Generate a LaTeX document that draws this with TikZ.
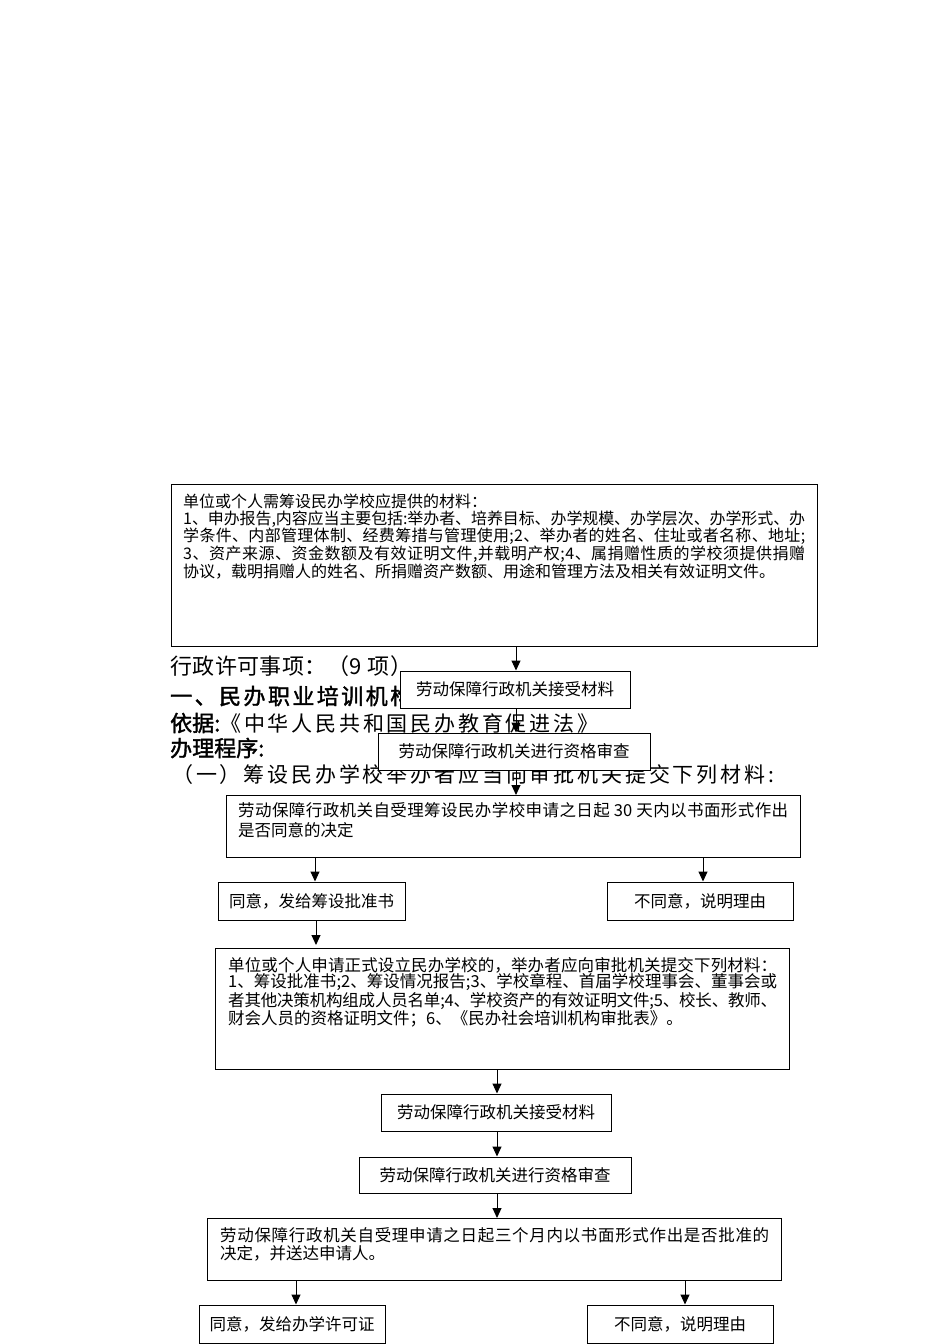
\documentclass[tikz,border=0pt]{standalone}
\usepackage{fontspec}
\setmainfont{Noto Sans CJK SC}
\newfontfamily\hb[FakeBold=1.6]{Noto Sans CJK SC}
\usetikzlibrary{arrows.meta}
\ExplSyntaxOn
\NewDocumentCommand\fl{mm}{\hbox~to~#1{\tl_map_inline:nn{#2}{##1\hskip~0pt~plus~1fil~minus~1fil}\unskip}}
\ExplSyntaxOff
\tikzset{
  box/.style={draw, line width=1pt, fill=white, inner sep=0pt, anchor=north west},
  sbox/.style={draw, line width=1pt, fill=white, inner sep=0pt, font=\fontsize{16.5}{18}\selectfont},
  txt/.style={anchor=north west, inner sep=0pt, align=left},
  arr/.style={line width=1pt, -{Triangle[length=10pt,width=9pt]}},
  hd/.style={anchor=west, inner sep=0pt},
}
\begin{document}
\begin{tikzpicture}[x=1pt,y=-1pt]
\useasboundingbox (0,0) rectangle (950,1344);
% headings (partly covered by the boxes)
\node[hd, font=\fontsize{22}{24}\selectfont] (h1) at (170,666) {\fl{242pt}{行政许可事项：（9{\ }项）}};
\node[hd, font=\hb\fontsize{22}{24}\selectfont] (h2) at (170,696) {\fl{242pt}{一、民办职业培训机构}};
\node[hd, font=\fontsize{21}{24}\selectfont] (h3) at (170,723) {{\hb\fontsize{22}{24}\selectfont 依据:}\fl{378pt}{《中华人民共和国民办教育促进法》}};
\node[hd, font=\hb\fontsize{22}{24}\selectfont] (h4) at (170,748) {办理程序:};
\node[hd, font=\fontsize{21}{24}\selectfont] (h5) at (172,775) {\fl{602pt}{（一）筹设民办学校举办者应当向审批机关提交下列材料:}};

% box 1
\node[box, minimum width=646pt, minimum height=162pt] (b1) at (171,484) {};
\node[txt, font=\fontsize{16}{16.4}\selectfont] (t1) at (183,494) {%
单位或个人需筹设民办学校应提供的材料：\\
\fl{622pt}{1、申办报告,内容应当主要包括:举办者、培养目标、办学规模、办学层次、办学形式、办}\\
\fl{622pt}{学条件、内部管理体制、经费筹措与管理使用;2、举办者的姓名、住址或者名称、地址;}\\
\fl{622pt}{3、资产来源、资金数额及有效证明文件,并载明产权;4、属捐赠性质的学校须提供捐赠}\\
协议，载明捐赠人的姓名、所捐赠资产数额、用途和管理方法及相关有效证明文件。};

\node[sbox, minimum width=230pt, minimum height=37pt] (b2) at (515,689.5) {劳动保障行政机关接受材料};
\node[sbox, minimum width=272pt, minimum height=37pt] (b3) at (514,751.5) {劳动保障行政机关进行资格审查};

% box 4
\node[box, minimum width=574pt, minimum height=62pt] (b4) at (226,795) {};
\node[txt, font=\fontsize{16.5}{20}\selectfont] (t4) at (238,802) {%
\fl{550pt}{劳动保障行政机关自受理筹设民办学校申请之日起{\ 30\ }天内以书面形式作出}\\
是否同意的决定};

\node[sbox, minimum width=187pt, minimum height=38pt] (b5) at (311.5,901) {同意，发给筹设批准书};
\node[sbox, minimum width=186pt, minimum height=38pt] (b6) at (700,901) {不同意，说明理由};

% box 7
\node[box, minimum width=574pt, minimum height=121pt] (b7) at (215,948) {};
\node[txt, font=\fontsize{16.5}{16.7}\selectfont] (t7) at (228,957) {%
\fl{549pt}{单位或个人申请正式设立民办学校的，举办者应向审批机关提交下列材料：}\\
\fl{549pt}{1、筹设批准书;2、筹设情况报告;3、学校章程、首届学校理事会、董事会或}\\
\fl{549pt}{者其他决策机构组成人员名单;4、学校资产的有效证明文件;5、校长、教师、}\\
财会人员的资格证明文件；6、《民办社会培训机构审批表》。};

\node[sbox, minimum width=230pt, minimum height=37pt] (b8) at (496,1112.5) {劳动保障行政机关接受材料};
\node[sbox, minimum width=272pt, minimum height=36pt] (b9) at (495,1175) {劳动保障行政机关进行资格审查};

% box 10
\node[box, minimum width=574pt, minimum height=62pt] (b10) at (207,1218) {};
\node[txt, font=\fontsize{16.5}{18}\selectfont] (t10) at (220,1227) {%
\fl{549pt}{劳动保障行政机关自受理申请之日起三个月内以书面形式作出是否批准的}\\
决定，并送达申请人。};

\node[sbox, minimum width=186pt, minimum height=38pt] (b11) at (292,1324) {同意，发给办学许可证};
\node[sbox, minimum width=186pt, minimum height=38pt] (b12) at (680,1324) {不同意，说明理由};

% connectors
\draw[arr] ([xshift=1pt]b2.north |- b1.south) -- ([xshift=1pt]b2.north);
\draw[arr] ([xshift=1pt]b2.south) -- ([xshift=1pt]b2.south |- b3.north);
\draw[arr] ([xshift=1pt]b2.south |- b3.south) -- ([xshift=1pt]b2.south |- b4.north);
\draw[arr] ([xshift=3.5pt]b5.north |- b4.south) -- ([xshift=3.5pt]b5.north);
\draw[arr] ([xshift=3pt]b6.north |- b4.south) -- ([xshift=3pt]b6.north);
\draw[arr, shorten >=3pt] ([xshift=4.5pt]b5.south) -- ([xshift=4.5pt]b5.south |- b7.north);
\draw[arr] ([xshift=1pt]b8.north |- b7.south) -- ([xshift=1pt]b8.north);
\draw[arr] ([xshift=1pt]b8.south) -- ([xshift=1pt]b8.south |- b9.north);
\draw[arr] ([xshift=1pt]b8.south |- b9.south) -- ([xshift=1pt]b8.south |- b10.north);
\draw[arr] ([xshift=4pt]b11.north |- b10.south) -- ([xshift=4pt]b11.north);
\draw[arr] ([xshift=5pt]b12.north |- b10.south) -- ([xshift=5pt]b12.north);
\end{tikzpicture}
\end{document}
